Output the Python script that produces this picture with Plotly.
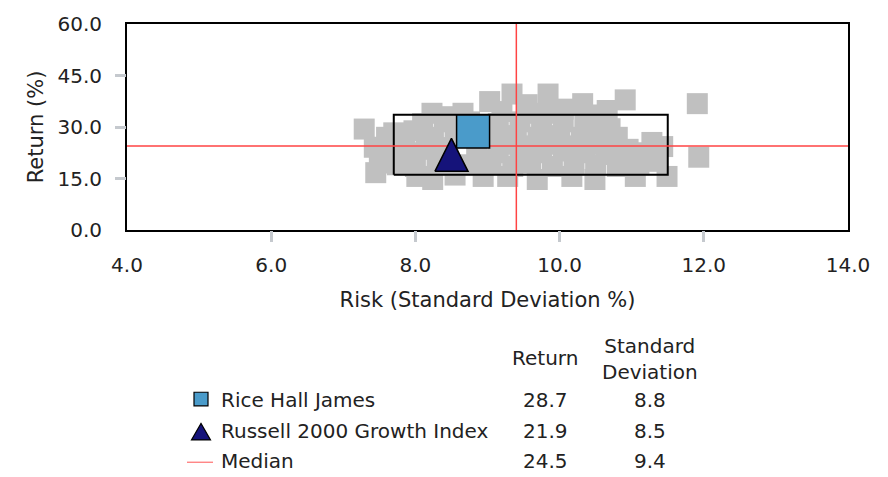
import plotly.graph_objects as go

# ---- data -------------------------------------------------------------
# peer universe: risk (standard deviation %) and return (%)
peer_risk = [
    8.23, 8.66, 9.03, 9.34, 9.55, 9.84, 10.05, 10.32, 10.66, 10.91, 8.45, 9.20, 9.70, 10.45,
    7.29, 7.43, 7.45, 7.50, 7.60, 7.70, 7.55,
    8.10, 8.40, 8.75, 9.15, 9.45, 9.75, 10.05, 10.35, 10.60,
    7.98, 8.25, 8.55, 9.10, 9.40, 9.70, 10.00, 10.30, 10.60, 10.80,
    7.65, 7.90, 8.15, 8.45, 8.85, 9.15, 9.45, 9.75, 10.05, 10.35, 10.65, 10.95, 11.15, 11.43, 11.28,
    7.75, 8.00, 8.30, 8.75, 9.05, 9.35, 9.60, 9.90, 10.20, 10.50, 10.80, 11.10, 11.35,
    8.02, 8.24, 8.94, 9.28, 9.69, 10.17, 10.49, 11.05, 11.49, 8.55,
    11.91, 11.93,
    9.25, 9.55, 9.85, 10.15, 10.45, 10.75, 9.00, 8.35, 7.85, 11.25, 10.95, 10.70, 9.95,
]
peer_return = [
    34.0, 34.0, 37.4, 39.6, 36.5, 39.6, 35.2, 36.8, 34.8, 37.9, 33.0, 34.5, 34.0, 33.5,
    29.4, 24.1, 16.7, 21.0, 27.0, 28.3, 19.5,
    31.0, 31.5, 31.5, 31.0, 31.5, 31.0, 31.5, 31.0, 31.5,
    28.9, 27.0, 27.0, 27.0, 27.5, 27.0, 27.5, 27.0, 27.5, 27.0,
    23.0, 22.5, 23.5, 24.0, 23.0, 22.5, 22.0, 22.5, 23.0, 22.5, 22.0, 23.5, 22.5, 24.3, 25.5,
    19.0, 18.5, 19.0, 19.0, 19.0, 18.5, 19.5, 18.5, 19.0, 19.0, 18.5, 19.0, 20.0,
    15.6, 14.7, 15.6, 15.6, 14.7, 15.6, 14.7, 15.6, 15.6, 16.0,
    36.8, 21.2,
    25.0, 24.5, 25.0, 24.5, 25.0, 24.5, 20.5, 21.0, 25.5, 21.5, 20.0, 29.5, 34.0,
]

series_names = ["Rice Hall James", "Russell 2000 Growth Index", "Median"]
series_return = [28.7, 21.9, 24.5]
series_risk = [8.8, 8.5, 9.4]

# 5th - 95th percentile band of the peer group
band_risk = [7.7, 11.5]
band_return = [16.1, 33.6]

x_ticks = [4.0, 6.0, 8.0, 10.0, 12.0, 14.0]
y_ticks = [0.0, 15.0, 30.0, 45.0, 60.0]

# ---- styling ------------------------------------------------------------
W, H = 888, 477
L, R, T, B = 127, 40, 18, 247
PW, PH = W - L - R, H - T - B
FONT = "DejaVu Sans"
TXT = "#222222"
GRAY = "#c0c0c0"
BLUE = "#4a9bca"
NAVY = "#15137a"
RED = "#ff4343"
TICK_GRAY = "#c5c9ce"


def px(x):
    return (x - L) / PW


def py(y):
    return (H - B - y) / PH


fund_ret, index_ret, med_ret = series_return
fund_risk, index_risk, med_risk = series_risk

fig = go.Figure()

fig.add_trace(go.Scatter(
    x=peer_risk, y=peer_return, mode="markers",
    marker=dict(symbol="square", size=21, color=GRAY, line=dict(width=0)),
    showlegend=False, hoverinfo="skip",
))

fig.add_trace(go.Scatter(
    x=[band_risk[0], band_risk[1], band_risk[1], band_risk[0], band_risk[0]],
    y=[band_return[0], band_return[0], band_return[1], band_return[1], band_return[0]],
    mode="lines", line=dict(color="black", width=2), showlegend=False, hoverinfo="skip",
))

fig.add_trace(go.Scatter(
    x=[x_ticks[0], x_ticks[-1]], y=[med_ret, med_ret], mode="lines",
    line=dict(color=RED, width=1.5), showlegend=False, hoverinfo="skip",
))
fig.add_trace(go.Scatter(
    x=[med_risk, med_risk], y=[y_ticks[0], y_ticks[-1]], mode="lines",
    line=dict(color=RED, width=1.5), showlegend=False, hoverinfo="skip",
))

fig.add_trace(go.Scatter(
    x=[fund_risk], y=[fund_ret], mode="markers",
    marker=dict(symbol="square", size=33, color=BLUE, line=dict(color="black", width=1.5)),
    showlegend=False, hoverinfo="skip",
))

# index drawn as a tall triangle around its (risk, return) point
tri_hw, tri_hh = 0.23, 4.8
fig.add_trace(go.Scatter(
    x=[index_risk - tri_hw, index_risk + tri_hw, index_risk, index_risk - tri_hw],
    y=[index_ret - tri_hh, index_ret - tri_hh, index_ret + tri_hh, index_ret - tri_hh],
    mode="lines", fill="toself", fillcolor=NAVY,
    line=dict(color="black", width=1.5), showlegend=False, hoverinfo="skip",
))

# empty trace so the overlaid tick-mark axes get drawn
fig.add_trace(go.Scatter(
    x=[None], y=[None], xaxis="x2", yaxis="y2", mode="markers",
    showlegend=False, hoverinfo="skip",
))

axis_common = dict(
    showgrid=False, zeroline=False, showline=True, linecolor="black", linewidth=2,
    mirror=True, ticks="outside", ticklen=11, tickcolor="rgba(0,0,0,0)",
    tickfont=dict(family=FONT, size=20, color=TXT),
)
tick_axis = dict(
    tickmode="array", ticks="outside", ticklen=11, tickwidth=3, tickcolor=TICK_GRAY,
    showticklabels=False, showline=False, showgrid=False, zeroline=False,
)

fig.update_layout(
    width=W, height=H,
    margin=dict(l=L, r=R, t=T, b=B),
    paper_bgcolor="white", plot_bgcolor="white",
    xaxis=dict(
        range=[x_ticks[0], x_ticks[-1]], tickmode="array", tickvals=x_ticks,
        ticktext=[f"{v:.1f}" for v in x_ticks], ticklabelstandoff=5,
        title=dict(text="Risk (Standard Deviation %)", standoff=16,
                   font=dict(family=FONT, size=21, color=TXT)),
        **axis_common,
    ),
    yaxis=dict(
        range=[y_ticks[0], y_ticks[-1]], tickmode="array", tickvals=y_ticks,
        ticktext=[f"{v:.1f}" for v in y_ticks], ticklabelstandoff=8,
        title=dict(text="Return (%)", standoff=8,
                   font=dict(family=FONT, size=21, color=TXT)),
        **axis_common,
    ),
    xaxis2=dict(overlaying="x", anchor="y2", side="bottom",
                range=[x_ticks[0], x_ticks[-1]], tickvals=x_ticks[1:-1], **tick_axis),
    yaxis2=dict(overlaying="y", anchor="x2", side="left",
                range=[y_ticks[0], y_ticks[-1]], tickvals=y_ticks[1:-1], **tick_axis),
    showlegend=False,
)

# ---- summary table under the chart -----------------------------------------
tfont = dict(family=FONT, size=20, color=TXT)
col_ret, col_sd, col_name = 545, 650, 219
rows_y = [405, 437, 468]

annotations = [
    dict(x=px(col_ret), y=py(362), text="Return", xanchor="center", yanchor="middle"),
    dict(x=px(col_sd), y=py(363), text="Standard<br>Deviation", xanchor="center", yanchor="middle"),
]
for name, ret, sd, ry in zip(series_names, series_return, series_risk, rows_y):
    annotations.append(dict(x=px(col_name), y=py(ry), text=name, xanchor="left", yanchor="middle"))
    annotations.append(dict(x=px(col_ret), y=py(ry), text=f"{ret:.1f}", xanchor="center", yanchor="middle"))
    annotations.append(dict(x=px(col_sd), y=py(ry), text=f"{sd:.1f}", xanchor="center", yanchor="middle"))
for a in annotations:
    a.update(xref="paper", yref="paper", showarrow=False, font=tfont)
fig.update_layout(annotations=annotations)

shapes = [
    dict(type="rect", xref="paper", yref="paper",
         x0=px(194), x1=px(208), y0=py(411), y1=py(397),
         fillcolor=BLUE, line=dict(color="black", width=1.2)),
    dict(type="path", xref="paper", yref="paper",
         path=f"M {px(191.5)} {py(446)} L {px(210.5)} {py(446)} L {px(201)} {py(429)} Z",
         fillcolor=NAVY, line=dict(color="black", width=1.2)),
    dict(type="line", xref="paper", yref="paper",
         x0=px(187), x1=px(213), y0=py(469), y1=py(469),
         line=dict(color="#ff7070", width=1.2)),
]
fig.update_layout(shapes=shapes)

fig.write_html("out.html")
